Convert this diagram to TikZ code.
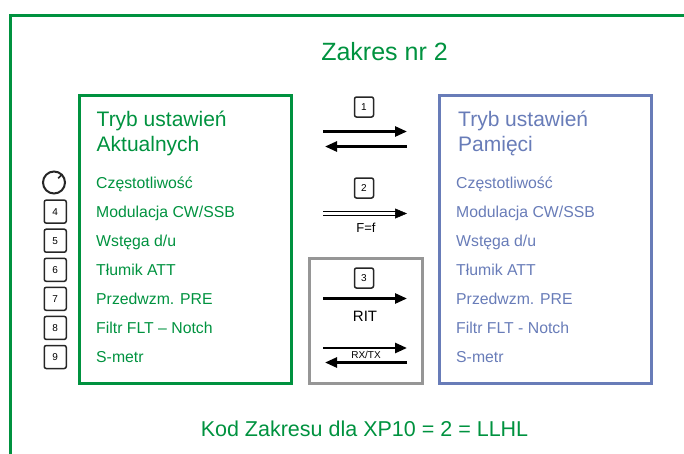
\documentclass[tikz,border=0pt]{standalone}
\usepackage{fontspec}
\setmainfont{Liberation Sans}
\usepackage{tikz}
\usetikzlibrary{arrows.meta,positioning,calc}
\definecolor{zkgreen}{RGB}{0,146,63}
\definecolor{zkblue}{RGB}{104,124,184}
\definecolor{zkgray}{RGB}{150,150,150}
\newcommand{\entryfont}{\fontsize{15.8}{18}\selectfont}
\newcommand{\headfont}{\fontsize{21}{25}\selectfont}

\begin{document}
\begin{tikzpicture}[x=1pt, y=-1pt,
  panel/.style={draw, line width=3pt, minimum width=212pt,
                minimum height=288pt, inner sep=0pt},
  head/.style={anchor=north west, align=left, inner sep=0pt, font=\headfont},
  entry/.style={anchor=west, inner sep=0pt, text height=14pt,
                text depth=2.7pt, font=\entryfont},
  numbox/.style={draw=black!85, line width=1.5pt, rounded corners=2pt,
                 minimum width=22pt, minimum height=23pt, inner sep=0pt,
                 font=\fontsize{10}{12}\selectfont},
  midbox/.style={numbox, minimum width=19pt, minimum height=20pt},
  knob/.style={circle, draw=black!85, line width=2pt, minimum size=22pt, inner sep=0pt},
  arr/.style={line width=2.6pt, -{Triangle[length=12pt, width=10pt]}},
  lbl/.style={inner sep=0pt, font=\fontsize{15}{18}\selectfont}]

\useasboundingbox (0,0) rectangle (684,453);

% outer frame
\draw[zkgreen, line width=3pt] (690,15) -- (10.5,15) -- (10.5,460);

\node[anchor=base, text=zkgreen, font=\fontsize{25}{30}\selectfont] (title) at (384.5,60.7) {Zakres nr 2};

% panels
\node[panel, draw=zkgreen] (akt) at (185,239) {};
\node[panel, draw=zkblue]  (pam) at (545,239) {};
\node[panel, draw=zkgray, minimum width=113pt, minimum height=125pt] (ritbox) at (365.5,320.5) {};

\node[head, text=zkgreen] (aktHead) at (96.5,110.5) {Tryb ustawień\\Aktualnych};
\node[head, text=zkblue]  (pamHead) at (458,110.5) {Tryb ustawień\\Pamięci};

% current settings
\node[entry, text=zkgreen] (a1) at (96,182.5) {Częstotliwość};
\node[entry, text=zkgreen] (a2) at (96,211.6) {Modulacja CW/SSB};
\node[entry, text=zkgreen] (a3) at (96,240.7) {Wstęga d/u};
\node[entry, text=zkgreen] (a4) at (96,269.8) {Tłumik ATT};
\node[entry, text=zkgreen] (a5) at (96,298.8) {Przedwzm. PRE};
\node[entry, text=zkgreen] (a6) at (96,327.9) {Filtr FLT – Notch};
\node[entry, text=zkgreen] (a7) at (96,357)   {S-metr};

% memory settings
\node[entry, text=zkblue] (m1) at (456,182.5) {Częstotliwość};
\node[entry, text=zkblue] (m2) at (456,211.6) {Modulacja CW/SSB};
\node[entry, text=zkblue] (m3) at (456,240.7) {Wstęga d/u};
\node[entry, text=zkblue] (m4) at (456,269.8) {Tłumik ATT};
\node[entry, text=zkblue] (m5) at (456,298.8) {Przedwzm. PRE};
\node[entry, text=zkblue] (m6) at (456,327.9) {Filtr FLT - Notch};
\node[entry, text=zkblue] (m7) at (456,357)   {S-metr};

% knob and keys
\node[knob, left=30pt of a1.west] (knob) {};
\draw[black!85, line width=1.6pt] (knob.45) -- ($(knob.center)!0.5!(knob.45)$);
\node[numbox, left=29pt of a2.west] (k4) {4};
\node[numbox, left=29pt of a3.west] (k5) {5};
\node[numbox, left=29pt of a4.west] (k6) {6};
\node[numbox, left=29pt of a5.west] (k7) {7};
\node[numbox, left=29pt of a6.west] (k8) {8};
\node[numbox, left=29pt of a7.west] (k9) {9};

% middle column
\node[midbox] (k1) at (364,107) {1};
\coordinate (c1a) at (323,131.5);
\coordinate (c1b) at (407,131.5);
\coordinate (c1c) at (407,146.5);
\coordinate (c1d) at (325,146.5);
\draw[arr] (c1a) -- (c1b);
\draw[arr] (c1c) -- (c1d);

\node[midbox] (k2) at (364,188) {2};
\coordinate (c2a) at (323,213.5);
\coordinate (c2b) at (407,213.5);
\draw[double, double distance=2.6pt, line width=1pt] (c2a) -- ([xshift=-11pt]c2b);
\draw[line width=0.5pt, -{Triangle[length=12pt, width=10pt]}] ([xshift=-12pt]c2b) -- (c2b);
\node[lbl, font=\fontsize{13}{15}\selectfont, below=9pt of c2b, xshift=-41pt] (ff) {F=f};

\node[midbox] (k3) at (364,278) {3};
\coordinate (c3a) at (323,298.5);
\coordinate (c3b) at (407,298.5);
\draw[arr] (c3a) -- (c3b);
\node[lbl] (rit) at (365,316) {RIT};

\coordinate (c4a) at (323,348);
\coordinate (c4b) at (407,348);
\coordinate (c4c) at (407,362.5);
\coordinate (c4d) at (325,362.5);
\draw[arr] (c4a) -- (c4b);
\draw[arr] (c4c) -- (c4d);
\node[lbl, font=\fontsize{10}{11}\selectfont] (rxtx) at (366,355) {RX/TX};

\node[anchor=base, text=zkgreen, font=\fontsize{21.5}{25}\selectfont] (code) at (364.5,436) {Kod Zakresu dla XP10 = 2 = LLHL};
\end{tikzpicture}
\end{document}
